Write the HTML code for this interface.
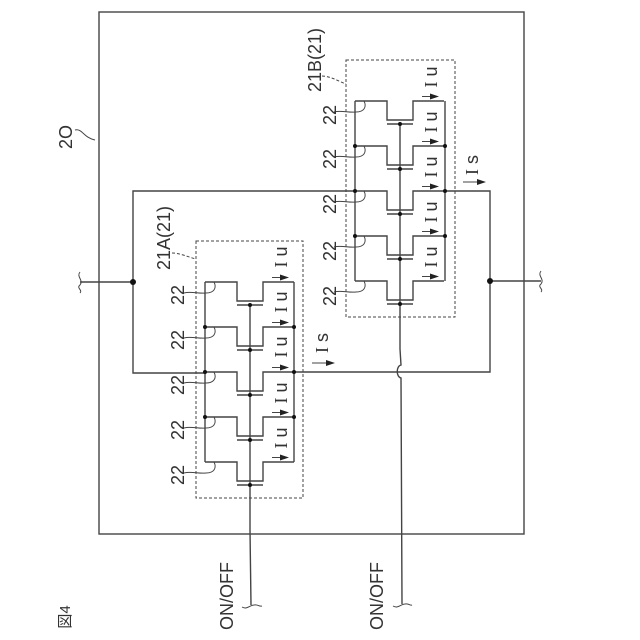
<!DOCTYPE html>
<html><head><meta charset="utf-8"><style>html,body{margin:0;padding:0;background:#fff}svg{display:block}
text{font-family:"Liberation Sans","Noto Sans CJK JP",sans-serif;fill:#333;text-anchor:middle}
.s{font-family:"Liberation Serif",serif}
</style></head><body>
<svg width="640" height="640" viewBox="0 0 640 640" xmlns="http://www.w3.org/2000/svg">
<rect width="640" height="640" fill="#fff"/>
<defs>
<g id="cell" fill="none" stroke="#444" stroke-width="1.4">
<path d="M0 0H32V19H58V0H89"/>
<path d="M32 23H58" />
<path d="M45 23V68"/>
<circle cx="45" cy="23" r="2" fill="#111" stroke="none"/>
<path d="M-21 11C-14 9 -6 12 1 11C9 11 12 6 9 0" stroke-width="1"/>
<path d="M67 -4.500H77" stroke-width="1"/>
<path d="M84 -4.500L75 -7.500V-1.500Z" fill="#222" stroke="none"/>
</g>
</defs>
<rect x="99" y="12" width="425" height="522" fill="none" stroke="#444" stroke-width="1.4"/>
<g fill="none" stroke="#444" stroke-width="1" stroke-dasharray="3 2">
<rect x="196" y="241" width="107" height="257"/>
<rect x="346" y="60" width="109" height="257"/>
<path d="M172 253C180 253 188 257 196 259"/>
<path d="M322 76C330 76 338 81 346 84"/>
</g>
<g fill="none" stroke="#444" stroke-width="1.4">
<path d="M133 282V191H355M445 191H490V372H294M133 282V373H205"/>
<path d="M80 282H133M490 281H541"/>
<path d="M205 282V462M294 282V462"/>
<path d="M355 101V281M445 101V281"/>
<path d="M250 530L251 605"/>
<path d="M400 349L401 365C396 366 396 377 401 378L402 604"/>
<path d="M80 272C76 277 84 280 80 285C76 288 83 290 80 293" stroke-width="1"/>
<path d="M541 271C537 276 545 279 541 284C537 287 544 289 541 292" stroke-width="1"/>
<path d="M242 607C247 610 250 605 254 605C258 604 259 607 262 606" stroke-width="1"/>
<path d="M393 606C398 609 401 604 405 604C409 603 410 606 412 605" stroke-width="1"/>
<path d="M75 130C82 128 84 138 95 140" stroke-width="1"/>
<path d="M312 363H328M463 182H478" stroke-width="1"/>
</g>
<path d="M335 363L326 360V366ZM486 182L477 179V185Z" fill="#222"/>
<use href="#cell" transform="translate(205,282)"/>
<use href="#cell" transform="translate(205,327)"/>
<use href="#cell" transform="translate(205,372)"/>
<use href="#cell" transform="translate(205,417)"/>
<use href="#cell" transform="translate(205,462)"/>
<use href="#cell" transform="translate(355,101)"/>
<use href="#cell" transform="translate(355,146)"/>
<use href="#cell" transform="translate(355,191)"/>
<use href="#cell" transform="translate(355,236)"/>
<use href="#cell" transform="translate(355,281)"/>
<g fill="#111">
<circle cx="133" cy="282" r="3"/><circle cx="490" cy="281" r="3"/>
<circle cx="205" cy="327" r="2"/><circle cx="205" cy="372" r="2"/><circle cx="205" cy="417" r="2"/>
<circle cx="294" cy="327" r="2"/><circle cx="294" cy="372" r="2"/><circle cx="294" cy="417" r="2"/>
<circle cx="355" cy="146" r="2"/><circle cx="355" cy="191" r="2"/><circle cx="355" cy="236" r="2"/>
<circle cx="445" cy="146" r="2"/><circle cx="445" cy="191" r="2"/><circle cx="445" cy="236" r="2"/>
</g>
<g font-size="18">
<text transform="translate(184,295) rotate(-90)">22</text>
<text transform="translate(184,340) rotate(-90)">22</text>
<text transform="translate(184,385) rotate(-90)">22</text>
<text transform="translate(184,430) rotate(-90)">22</text>
<text transform="translate(184,475) rotate(-90)">22</text>
<text transform="translate(336,115) rotate(-90)">22</text>
<text transform="translate(336,159) rotate(-90)">22</text>
<text transform="translate(336,204) rotate(-90)">22</text>
<text transform="translate(336,251) rotate(-90)">22</text>
<text transform="translate(336,296) rotate(-90)">22</text>
<text transform="translate(170,238) rotate(-90)">21A(21)</text>
<text transform="translate(321,60) rotate(-90)">21B(21)</text>
<text transform="translate(72,137) rotate(-90)">2O</text>
<text transform="translate(233,596) rotate(-90)">ON/OFF</text>
<text transform="translate(383,596) rotate(-90)">ON/OFF</text>
</g>
<text font-size="15" transform="translate(70,617) rotate(-90)">図4</text>
<g font-size="18">
<text transform="translate(287,257) rotate(-90)"><tspan class="s">I</tspan> u</text>
<text transform="translate(287,302) rotate(-90)"><tspan class="s">I</tspan> u</text>
<text transform="translate(287,347) rotate(-90)"><tspan class="s">I</tspan> u</text>
<text transform="translate(287,393) rotate(-90)"><tspan class="s">I</tspan> u</text>
<text transform="translate(287,438) rotate(-90)"><tspan class="s">I</tspan> u</text>
<text transform="translate(437,77) rotate(-90)"><tspan class="s">I</tspan> u</text>
<text transform="translate(437,122) rotate(-90)"><tspan class="s">I</tspan> u</text>
<text transform="translate(437,167) rotate(-90)"><tspan class="s">I</tspan> u</text>
<text transform="translate(437,212) rotate(-90)"><tspan class="s">I</tspan> u</text>
<text transform="translate(437,257) rotate(-90)"><tspan class="s">I</tspan> u</text>
<text transform="translate(328,343) rotate(-90)"><tspan class="s">I</tspan> s</text>
<text transform="translate(478,165) rotate(-90)"><tspan class="s">I</tspan> s</text>
</g>
</svg>
</body></html>
